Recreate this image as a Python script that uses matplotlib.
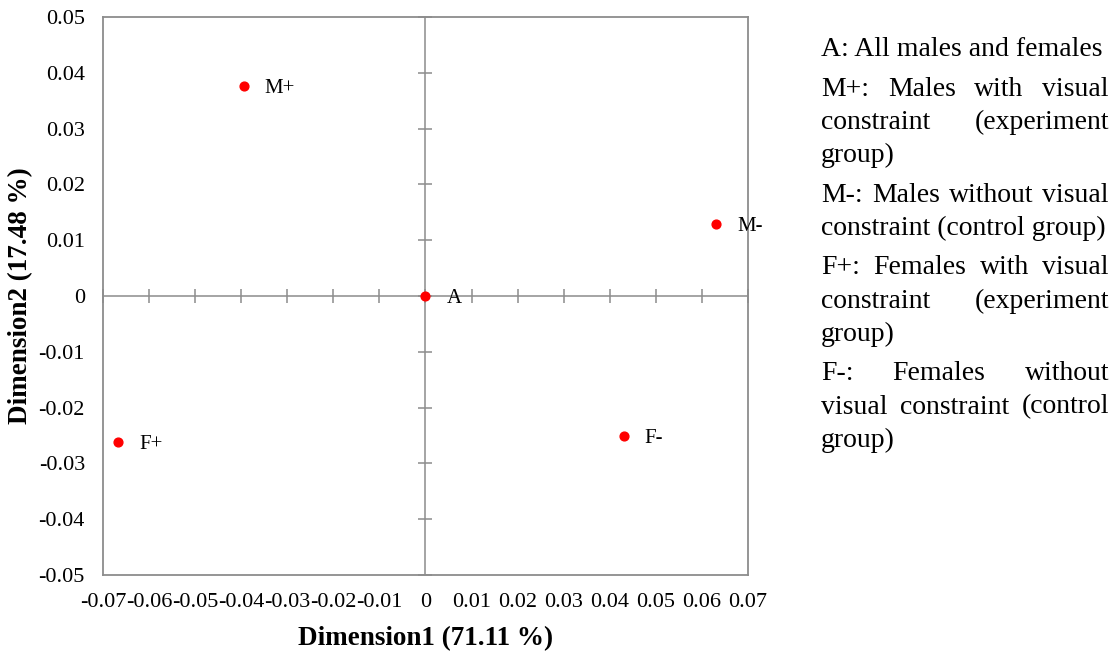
import numpy as np
import matplotlib.pyplot as plt

plt.rcParams['font.family'] = ['Liberation Serif', 'DejaVu Serif']

# correspondence analysis coordinates
labels = ["A", "M+", "M-", "F+", "F-"]
dim1 = [0.0, -0.0394, 0.0631, -0.0667, 0.0430]
dim2 = [0.0, 0.0376, 0.0129, -0.0262, -0.0251]

xticks = np.round(np.arange(-0.07, 0.0701, 0.01), 2)
yticks = np.round(np.arange(-0.05, 0.0501, 0.01), 2)

notes = [
    ["A: All males and females"],
    ["M+: Males with visual", "constraint (experiment", "group)"],
    ["M-: Males without visual", "constraint (control group)"],
    ["F+: Females with visual", "constraint (experiment", "group)"],
    ["F-: Females without", "visual constraint (control", "group)"],
]

W, H = 1118, 651
fig = plt.figure(figsize=(W / 100, H / 100), dpi=100)
ax = fig.add_axes([103 / W, 1 - 575 / H, 645 / W, 558 / H])

ax.set_xlim(-0.07, 0.07)
ax.set_ylim(-0.05, 0.05)
ax.set_xticks(xticks)
ax.set_yticks(yticks)
ax.set_xticklabels(["0" if v == 0 else f"{v:g}" for v in xticks])
ax.set_yticklabels(["0" if v == 0 else f"{v:g}" for v in yticks])
ax.tick_params(length=0, labelsize=16)
ax.tick_params(axis='x', pad=13)
ax.tick_params(axis='y', pad=13)
for s in ax.spines.values():
    s.set_color('#8c8c8c')
    s.set_linewidth(1.3)

# axes through origin with crossing tick marks
ax.axhline(0, color='#8c8c8c', lw=1.1, zorder=1)
ax.axvline(0, color='#8c8c8c', lw=1.1, zorder=1)
ax.plot(xticks, np.zeros_like(xticks), ls='none', marker='|', ms=10,
        mew=1.1, color='#8c8c8c', zorder=1, clip_on=False)
ax.plot(np.zeros_like(yticks), yticks, ls='none', marker='_', ms=10,
        mew=1.1, color='#8c8c8c', zorder=1, clip_on=False)

ax.scatter(dim1, dim2, s=40, color='#ff0000', zorder=3)
for lab, x, y in zip(labels, dim1, dim2):
    ax.annotate(lab, (x, y), xytext=(15, -2), textcoords='offset points',
                fontsize=15, va='center', ha='left')

ax.set_xlabel("Dimension1 (71.11 %)", fontsize=19.5, fontweight='bold', labelpad=10)
ax.set_ylabel("Dimension2 (17.48 %)", fontsize=19.5, fontweight='bold', labelpad=4)

# justified notes on the right
renderer = fig.canvas.get_renderer()
x0, x1 = 821, 1109
fs = 20
y = 47
for para in notes:
    for i, line in enumerate(para):
        words = line.split(" ")
        last = i == len(para) - 1
        if last or len(words) == 1:
            fig.text(x0 / W, 1 - y / H, line, fontsize=fs, va='center_baseline')
        else:
            objs = [fig.text(0, 1 - y / H, w, fontsize=fs, va='center_baseline') for w in words]
            widths = [t.get_window_extent(renderer).width for t in objs]
            gap = (x1 - x0 - sum(widths)) / (len(words) - 1)
            xp = x0
            for t, wd in zip(objs, widths):
                t.set_x(xp / W)
                xp += wd + gap
        y += 33.3
    y += 6

fig.savefig("out.png", dpi=100)
